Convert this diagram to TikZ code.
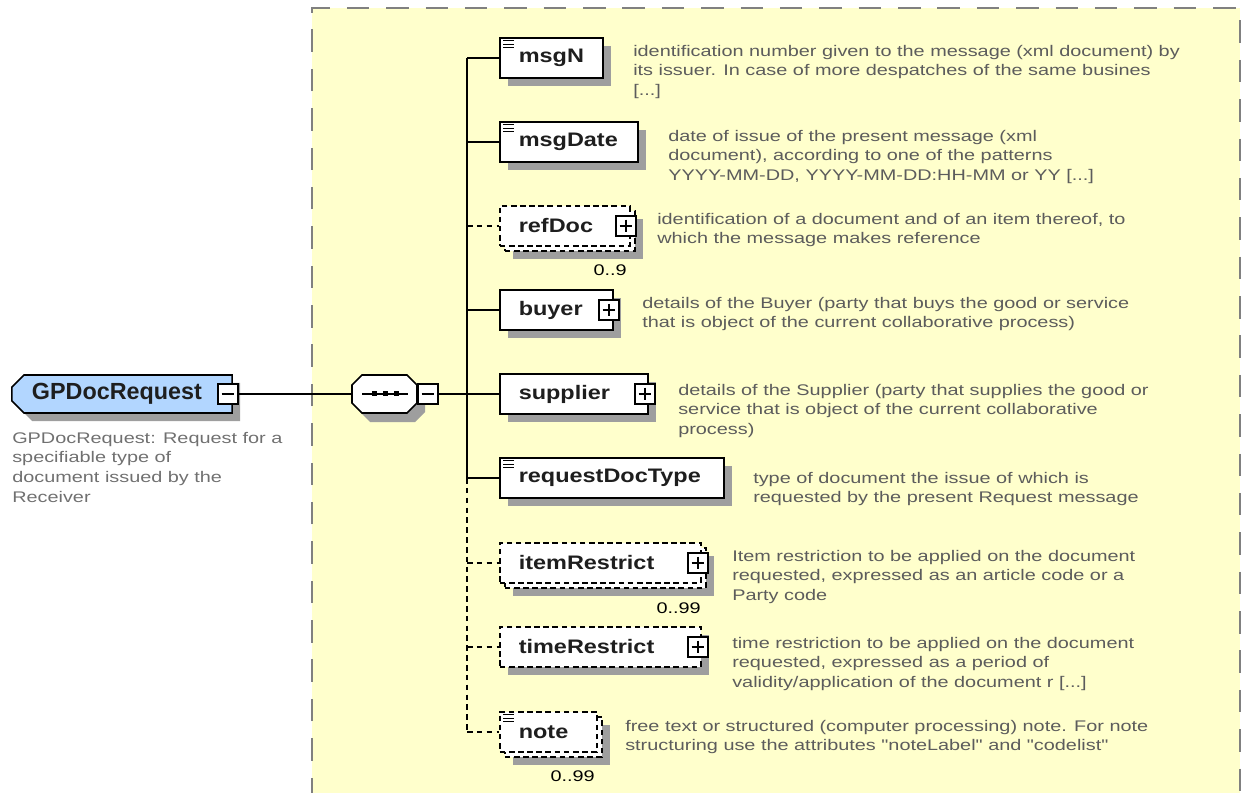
\documentclass[tikz,border=0pt]{standalone}
\usepackage{fontspec}
\usetikzlibrary{shapes.misc, shadows}
\newfontfamily\descfont{Liberation Sans}[FakeStretch=1.29, Ligatures=TeXOff]
\newfontfamily\lblfont{Liberation Sans}[FakeStretch=1.2]
\newfontfamily\rootfont{Liberation Sans}
\definecolor{bgyellow}{RGB}{255,255,204}
\definecolor{framegray}{RGB}{128,128,128}
\definecolor{shadowgray}{RGB}{158,158,158}
\definecolor{rootblue}{RGB}{178,214,255}
\definecolor{lbltext}{RGB}{30,30,30}
\definecolor{descgray}{RGB}{92,92,92}
\definecolor{rootgray}{RGB}{112,112,112}
\tikzset{
  frame/.style={draw=framegray, line width=1.4pt, dash pattern=on 16pt off 12pt},
  conn/.style={line width=1.1pt},
  optconn/.style={conn, dash pattern=on 4pt off 3pt},
  boxdash/.style={dash pattern=on 4pt off 2.5pt},
  shd/.style={drop shadow={shadow xshift=0.2cm, shadow yshift=-0.2cm, opacity=1, fill=shadowgray}},
  manyshd/.style={general shadow={shadow xshift=0.325cm, shadow yshift=-0.325cm, fill=shadowgray},
    general shadow={shadow xshift=0.125cm, shadow yshift=-0.125cm, draw, fill=white, line width=1.1pt, boxdash}},
  elem/.style={draw, fill=white, line width=1.1pt, anchor=west, minimum height=1cm,
    inner xsep=0.475cm, inner ysep=0pt, align=left, text=lbltext,
    font=\lblfont\bfseries\fontsize{13.9}{16}\selectfont},
  req/.style={elem, shd},
  opt/.style={elem, shd, boxdash},
  optmany/.style={elem, manyshd, boxdash},
  pm/.style={draw, fill=white, line width=0.9pt, minimum size=0.5cm, inner sep=0pt},
  minusbox/.style={pm, path picture={\draw[line width=0.9pt]
    ([xshift=2.5pt]path picture bounding box.west) -- ([xshift=-2.5pt]path picture bounding box.east);}},
  plusbox/.style={pm, path picture={\draw[line width=0.9pt]
    ([xshift=2.5pt]path picture bounding box.west) -- ([xshift=-2.5pt]path picture bounding box.east)
    ([yshift=-2.5pt]path picture bounding box.north) -- ([yshift=2.5pt]path picture bounding box.south);}},
  rootbox/.style={chamfered rectangle, chamfered rectangle corners={north west,south west},
    chamfered rectangle xsep=0.2cm, draw, fill=rootblue, line width=1.1pt, inner xsep=0.3cm,
    inner ysep=0pt, text width=4.5cm, align=left, minimum height=0.95cm, text=lbltext,
    font=\rootfont\bfseries\fontsize{16.6}{19}\selectfont, shd},
  seqbox/.style={minimum width=1.625cm, minimum height=0.95cm, inner sep=0pt},
  desc/.style={anchor=north west, align=left, inner sep=0pt, text=descgray,
    font=\descfont\fontsize{10.95}{13.9}\selectfont},
  rootdesc/.style={desc, text=rootgray},
  occ/.style={anchor=north east, inner sep=0pt, text=black, font=\descfont\fontsize{10.95}{13}\selectfont}
}
% small text lines in the top left corner of a simple-type element
\newcommand{\docicon}[1]{\foreach \k in {3.5,7,10.5}{\draw[line width=0.6pt] ([shift={(4,\k)}]#1.north west) -- ++(11,0);}}
\newcommand{\low}[1]{\raisebox{-2pt}{#1}}

\begin{document}
\begin{tikzpicture}[x=0.025cm, y=-0.025cm]
\useasboundingbox (0,0) rectangle (1242,793);
% type area
\fill[bgyellow] (312,8) rectangle (1240,800);
\draw[frame] (312,800) -- (312,8) -- (1240,8) -- (1240,800);

% root element
\node[rootbox] (root) at (122,394) {GPDocRequest};
\node[minusbox] (rootm) at (228,394) {};
\node[rootdesc] (rootd) at (12,432) {GPDocRequest: Request for a\\specifiable type of\\document issued by the\\Receiver};

% sequence (octagon drawn by hand, node only for the anchors)
\fill[shadowgray, shift={(8,9)}] (362,375) -- (407,375) -- (417,385) -- (417,403) -- (407,413)
  -- (362,413) -- (352,403) -- (352,385) -- cycle;
\filldraw[fill=white, line width=1.1pt] (362,375) -- (407,375) -- (417,385) -- (417,403) -- (407,413)
  -- (362,413) -- (352,403) -- (352,385) -- cycle;
\node[seqbox] (seq) at (384.5,394) {};
\draw[line width=1.2pt] ([xshift=-0.56cm]seq.center) -- ([xshift=0.59cm]seq.center);
\foreach \d in {-10,1,12}{% the three dots
\fill ([shift={(\d-2.5,-2.5)}]seq.center) rectangle ++(5,5);}
\node[minusbox] (seqm) at (428,394) {};
\coordinate (trunk) at (467,394);

% children
\node[req, text width=1.625cm] (msgN) at (499,58) {\low{msgN}};
\node[req, text width=2.5cm] (msgDate) at (499,142) {\low{msgDate}};
\node[optmany, text width=2.3cm] (refDoc) at (499,226) {refDoc};
\node[req, text width=1.875cm] (buyer) at (499,310) {buyer};
\node[req, text width=2.75cm] (supplier) at (499,394) {supplier};
\node[req, text width=4.65cm] (reqType) at (499,478) {\low{requestDocType}};
\node[optmany, text width=4.075cm] (itemRes) at (499,563) {itemRestrict};
\node[opt, text width=4.075cm] (timeRes) at (499,647) {timeRestrict};
\node[optmany, text width=1.475cm] (note) at (499,732) {\low{note}};
\foreach \n in {msgN,msgDate,reqType,note}{\docicon{\n}}

\node[plusbox] (refDocp) at (626,226) {};
\node[plusbox] (buyerp) at (609,310) {};
\node[plusbox] (supplierp) at (645,394) {};
\node[plusbox] (itemResp) at (698,563) {};
\node[plusbox] (timeResp) at (698,647) {};

\node[occ] (refDoco) at (627,264) {0..9};
\node[occ] (itemReso) at (701,602) {0..99};
\node[occ] (noteo) at (595,770) {0..99};

% annotations
\node[desc] (msgNd) at (633,45) {identification number given to the message (xml document) by\\its issuer. In case of more despatches of the same busines\\{[...]}};
\node[desc] (msgDated) at (668,130) {date of issue of the present message (xml\\document), according to one of the patterns\\YYYY-MM-DD, YYYY-MM-DD:HH-MM or YY [...]};
\node[desc] (refDocd) at (657,213) {identification of a document and of an item thereof, to\\which the message makes reference};
\node[desc] (buyerd) at (642,297) {details of the Buyer (party that buys the good or service\\that is object of the current collaborative process)};
\node[desc] (supplierd) at (678,384) {details of the Supplier (party that supplies the good or\\service that is object of the current collaborative\\process)};
\node[desc] (reqTyped) at (753,472) {type of document the issue of which is\\requested by the present Request message};
\node[desc] (itemResd) at (732,550) {Item restriction to be applied on the document\\requested, expressed as an article code or a\\Party code};
\node[desc] (timeResd) at (732,637) {time restriction to be applied on the document\\requested, expressed as a period of\\validity/application of the document r [...]};
\node[desc] (noted) at (625,720) {free text or structured (computer processing) note. For note\\structuring use the attributes "noteLabel" and "codelist"};

% connectors
\draw[conn] (rootm.east) -- (seq.west);
\draw[conn] (seqm.east) -- (trunk);
\draw[conn] (trunk |- msgN.west) -- (trunk |- reqType.west);
\draw[optconn] (trunk |- reqType.west) -- (trunk |- note.west);
\foreach \n in {msgN,msgDate,buyer,supplier,reqType}{\draw[conn] (trunk |- \n.west) -- (\n.west);}
\foreach \n in {refDoc,itemRes,timeRes,note}{\draw[optconn] (trunk |- \n.west) -- (\n.west);}
\end{tikzpicture}
\end{document}
